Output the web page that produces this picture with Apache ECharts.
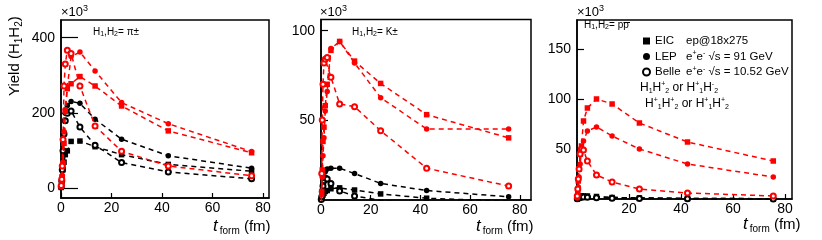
<!DOCTYPE html>
<html><head><meta charset="utf-8">
<script src="https://cdn.jsdelivr.net/npm/echarts@6/dist/echarts.min.js"></script>
<style>html,body{margin:0;padding:0;background:#fff}#c{width:822px;height:240px}</style>
</head><body><div id="c"></div>
<script>
// formation time (fm)
const tform = [0.1, 0.3, 0.5, 0.8, 1.2, 1.7, 2.5, 4, 7.5, 13.5, 24, 42.5, 75.5];

// Panel 1: H1,H2 = pi+- (x10^3)
const pi_EIC_opp  = [5, 12, 30, 65, 120, 205, 265, 278, 297, 272, 219, 153, 95];
const pi_LEP_opp  = [5, 15, 35, 70, 150, 210, 270, 350, 362, 312, 228, 172, 98];
const pi_Belle_opp= [8, 25, 60, 130, 272, 330, 367, 358, 272, 166, 99, 60, 34];
const pi_EIC_same = [3, 15, 30, 50, 70, 90, 100, 125, 126, 111, 90, 64, 46];
const pi_LEP_same = [5, 20, 50, 100, 150, 200, 220, 231, 226, 184, 131, 87, 54];
const pi_Belle_same=[5, 20, 50, 100, 145, 180, 200, 206, 163, 115, 69, 44, 26];

// Panel 2: H1,H2 = K+-
const K_EIC_opp   = [3, 10, 22, 38, 46, 58, 70, 89, 94, 83, 70.5, 53, 40];
const K_LEP_opp   = [2, 8, 18, 30, 40, 55, 66, 90, 94, 82, 62.5, 45, 45];
const K_Belle_opp = [5, 20, 50, 70, 82, 84, 85, 74, 59, 57.5, 44, 23, 13];
const K_EIC_same  = [5, 6, 7, 8, 9, 10, 10.5, 11.5, 12, 10.8, 8.6, 6.2, 4.5];
const K_LEP_same  = [5.5, 7, 10, 14, 18, 21, 22.5, 23, 23, 20, 14.5, 10.5, 7];
const K_Belle_same= [5.5, 7, 10, 13, 16, 17.5, 17, 14.5, 10.3, 7.5, 5, 3, 2];

// Panel 3: H1,H2 = p pbar
const p_EIC_opp   = [2, 8, 18, 30, 45, 53, 78, 91, 100, 95, 76, 57, 38];
const p_LEP_opp   = [1, 5, 12, 22, 35, 48, 58, 68, 72, 63, 50, 35, 22];
const p_Belle_opp = [3, 10, 20, 30, 45, 50, 49, 38, 24, 17, 10, 6, 3];
const p_EIC_same  = [0.5, 1, 1.5, 2, 2.5, 3, 3, 3, 2.5, 1.5, 1, 0.5, 0.3];
const p_LEP_same  = [0.3, 0.6, 1, 1.3, 1.6, 2, 2.2, 2.3, 2, 1.5, 1, 0.6, 0.3];
const p_Belle_same= [0.3, 0.6, 1, 1.3, 1.6, 2, 2, 1.8, 1.2, 0.8, 0.5, 0.3, 0.1];

const xTicks = [[0,20,40,60,80],[0,20,40,60,80],[20,40,60,80]];
const yTicks = [[0,200,400],[50,100],[50,100,150]];

const RED = '#ff0000', BLK = '#000000';
const FONT = 'Liberation Sans, Arial, Helvetica, sans-serif';

const chart = echarts.init(document.getElementById('c'), null, {renderer:'canvas'});

const grids = [
  {left:61, top:20, width:208, height:178},
  {left:321, top:19.5, width:210, height:180.5},
  {left:577, top:20, width:215, height:179}
];
const xr = [[0,82.4],[0,84.5],[0,82.7]];
const yr = [[-25,447],[5.2,106.3],[0,179]];
const yTickLen = [17, 7, 7];

const xAxis = grids.map((g,i)=>({
  gridIndex:i, type:'value', min:xr[i][0], max:xr[i][1],
  axisLine:{show:true, onZero:false, lineStyle:{color:'#000', width:1.5}},
  axisTick:{show:true, inside:true, length:5, customValues:xTicks[i], lineStyle:{color:'#000',width:1.2}},
  axisLabel:{customValues:xTicks[i], color:'#000', fontSize:14, fontFamily:FONT, margin:3},
  splitLine:{show:false}
}));
const yAxis = grids.map((g,i)=>({
  gridIndex:i, type:'value', min:yr[i][0], max:yr[i][1],
  axisLine:{show:true, onZero:false, lineStyle:{color:'#000', width:1.5}},
  axisTick:{show:true, inside:true, length:yTickLen[i], customValues:yTicks[i], lineStyle:{color:'#000',width:1.2}},
  axisLabel:{customValues:yTicks[i], color:'#000', fontSize:14, fontFamily:FONT, margin:6},
  splitLine:{show:false}
}));

function mk(name, idx, vals, color, sym){
  const empty = sym==='emptyCircle';
  return {
    name, type:'line', xAxisIndex:idx, yAxisIndex:idx,
    data: tform.map((t,k)=>[t, vals[k]]),
    symbol: sym, symbolSize: empty?5:5.5,
    showAllSymbol:true, clip:true, z: color===RED?3:2,
    lineStyle:{color, width:1.5, type:[5,4]},
    itemStyle:{color: color, borderColor:color, borderWidth: empty?1.2:0},
    emphasis:{disabled:true}, animation:false
  };
}
const sets = [
  [pi_EIC_opp, pi_LEP_opp, pi_Belle_opp, pi_EIC_same, pi_LEP_same, pi_Belle_same],
  [K_EIC_opp, K_LEP_opp, K_Belle_opp, K_EIC_same, K_LEP_same, K_Belle_same],
  [p_EIC_opp, p_LEP_opp, p_Belle_opp, p_EIC_same, p_LEP_same, p_Belle_same]
];
const syms = ['rect','circle','emptyCircle'];
const names = ['EIC','LEP','Belle'];
const series = [];
sets.forEach((s,i)=>{
  for(let j=0;j<3;j++) series.push(mk(names[j], i, s[3+j], BLK, syms[j]));
  for(let j=0;j<3;j++) series.push(mk(names[j], i, s[j], RED, syms[j]));
});

const rt = {
  n:{fontSize:10, fontFamily:FONT, color:'#000'},
  sb:{fontSize:7, fontFamily:FONT, color:'#000', padding:[5,0,0,0]},
  rn:{fontSize:12, fontFamily:FONT, color:RED},
  rsb:{fontSize:7, fontFamily:FONT, color:RED, padding:[7,0,0,0]},
  rsp:{fontSize:7, fontFamily:FONT, color:RED, padding:[0,0,7,0]},
  kn:{fontSize:12, fontFamily:FONT, color:'#000'},
  ksb:{fontSize:7, fontFamily:FONT, color:'#000', padding:[7,0,0,0]},
  ksp:{fontSize:7, fontFamily:FONT, color:'#000', padding:[0,0,7,0]}
};

function txt(x,y,text,rich,extra){
  return {type:'text', left:x, top:y, silent:true, style:Object.assign({text, rich:rich||rt, fill:'#000', font:'11px '+FONT}, extra||{})};
}

const graphic = [];
[[61,4],[320,4],[577,4]].forEach(p=>{
  graphic.push(txt(p[0],p[1],'{a|×10}{s|3}',{a:{fontSize:13,fontFamily:FONT,color:'#000'},s:{fontSize:9,fontFamily:FONT,color:'#000',padding:[0,0,8,0]}}));
});
graphic.push(txt(93,27,'{n|H}{sb|1}{n|,H}{sb|2}{n|= π±}'));
graphic.push(txt(352,27,'{n|H}{sb|1}{n|,H}{sb|2}{n|= K±}'));
graphic.push(txt(584,20,'{n|H}{sb|1}{n|,H}{sb|2}{n|= pp}'));
// overline of the antiproton symbol
graphic.push({type:'line', silent:true, shape:{x1:623.5,y1:22.5,x2:630,y2:22.5}, style:{stroke:'#000', lineWidth:1}});
[[213,218],[476,218],[743,216]].forEach(p=>{
  graphic.push(txt(p[0],p[1],'{t|t}{f|form}{u| (fm)}',{t:{fontSize:17,fontFamily:FONT,fontStyle:'italic',color:'#000'},f:{fontSize:10,fontFamily:FONT,color:'#000',padding:[9,0,0,2]},u:{fontSize:15,fontFamily:FONT,color:'#000'}}));
});
graphic.push({type:'text', x:6, y:96, rotation:Math.PI/2, silent:true,
  style:{text:'{n|Yield (H}{s|1}{n|H}{s|2}{n|)}', rich:{n:{fontSize:15,fontFamily:FONT,color:'#000'},s:{fontSize:10,fontFamily:FONT,color:'#000',padding:[8,0,0,0]}}, fill:'#000'}});
graphic.push(txt(640,81,'{rn|H}{rsb|1}{rn|H}{rsp|+}{rsb|2}{rn| or H}{rsp|+}{rsb|1}{rn|H}{rsp|-}{rsb|2}'));
graphic.push(txt(645,97,'{kn|H}{ksp|+}{ksb|1}{kn|H}{ksp|+}{ksb|2}{kn| or H}{ksp|+}{ksb|1}{kn|H}{ksp|+}{ksb|2}'));

const legend = {
  show:true, orient:'vertical', left:637, top:30, itemGap:3,
  itemWidth:7, itemHeight:7, selectedMode:false,
  data:[
    {name:'EIC', icon:'rect', itemStyle:{color:'#000', borderWidth:0}},
    {name:'LEP', icon:'circle', itemStyle:{color:'#000', borderWidth:0}},
    {name:'Belle', icon:'emptyCircle', itemStyle:{color:'#000', borderColor:'#000', borderWidth:1.2}}
  ],
  formatter: n => n==='EIC' ? '{a|EIC}{b|ep@18x275}' : n==='LEP' ? '{a|LEP}{b|e}{p|+}{b|e}{p|-}{b| √s = 91 GeV}' : '{a|Belle}{b|e}{p|+}{b|e}{p|-}{b| √s = 10.52 GeV}',
  textStyle:{rich:{
    a:{fontSize:11.5, fontFamily:FONT, color:'#000', width:31},
    b:{fontSize:11.5, fontFamily:FONT, color:'#000'},
    p:{fontSize:7, fontFamily:FONT, color:'#000', padding:[0,0,6,0]}
  }}
};

chart.setOption({
  animation:false, backgroundColor:'#fff',
  grid: grids.map(g=>Object.assign({show:true, borderColor:'#000', borderWidth:1.5, backgroundColor:'transparent', containLabel:false}, g)),
  xAxis, yAxis, series, legend, graphic
});
</script></body></html>
